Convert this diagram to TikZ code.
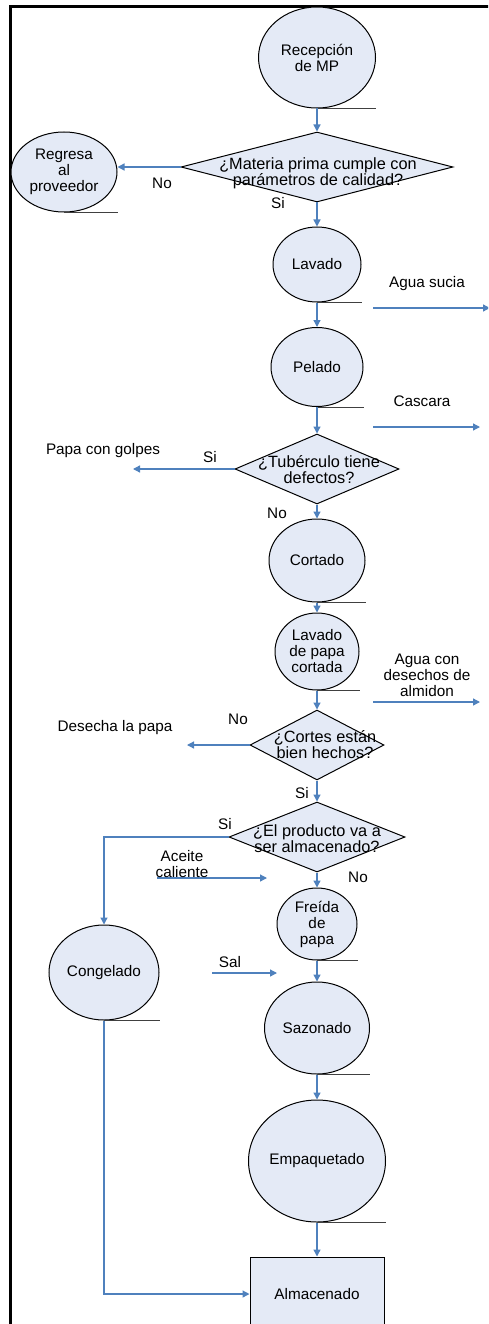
\documentclass[tikz,border=0pt]{standalone}
\usepackage{fontspec}
\setmainfont{Liberation Sans}
\usetikzlibrary{shapes.geometric,arrows.meta}
\definecolor{procfill}{RGB}{228,234,246}
\definecolor{flowblue}{RGB}{79,129,189}
\newcommand\figfont{\fontsize{15.3}{16}\selectfont}
\newcommand\decfont{\fontsize{16.3}{16}\selectfont}
\begin{document}
\begin{tikzpicture}[x=1pt,y=-1pt,
 proc/.style={ellipse,draw=black,line width=1,fill=procfill,inner sep=0,align=center,font=\figfont},
 dec/.style={diamond,draw=black,line width=1,fill=procfill,inner sep=0},
 store/.style={rectangle,draw=black,line width=1,fill=procfill,inner sep=0,font=\figfont},
 flow/.style={draw=flowblue,line width=1.3,-{Triangle[length=7pt,width=7pt]}},
 tail/.style={draw=black!75,line width=0.9},
 txt/.style={font=\figfont,align=center,inner sep=0},
 dtxt/.style={font=\decfont,align=center,inner sep=0},
 frame/.style={draw=black,line width=3.4}
]
\useasboundingbox (0,0) rectangle (488,1324);
\clip (0,0) rectangle (488,1324);

% frame
\draw[frame] (10.4,1330) -- (10.4,6.5) -- (492,6.5);

% nodes
\node[proc,minimum width=117,minimum height=101] (recep) at (317,57.5) {Recepción\\de MP};
\node[dec,minimum width=272,minimum height=70] (d1) at (317,167) {};
\node[dtxt] (d1t) at (318,173) {¿Materia prima cumple con\\parámetros de calidad?};
\node[proc,minimum width=106,minimum height=80] (regresa) at (64,172) {Regresa\\al\\proveedor};
\node[proc,minimum width=88,minimum height=75] (lavado) at (317,264.5) {Lavado};
\node[proc,minimum width=92,minimum height=79] (pelado) at (317,367) {Pelado};
\node[dec,minimum width=164,minimum height=70] (d2) at (317,469) {};
\node[dtxt] (d2t) at (319,470) {¿Tubérculo tiene\\defectos?};
\node[proc,minimum width=96,minimum height=83] (cortado) at (317,560.5) {Cortado};
\node[proc,minimum width=84,minimum height=77] (lav2) at (317,651.5) {Lavado\\de papa\\cortada};
\node[dec,minimum width=134,minimum height=70] (d3) at (317,745) {};
\node[dtxt] (d3t) at (325,745) {¿Cortes están\\bien hechos?};
\node[dec,minimum width=176,minimum height=70] (d4) at (317,837) {};
\node[dtxt] (d4t) at (317,839) {¿El producto va a\\ser almacenado?};
\node[proc,minimum width=80,minimum height=72] (freida) at (317,924) {Freída\\de\\papa};
\node[proc,minimum width=110,minimum height=95] (congel) at (104,972.5) {Congelado};
\node[proc,minimum width=105,minimum height=92] (sazon) at (317,1028) {Sazonado};
\node[proc,minimum width=137,minimum height=122] (empaq) at (317,1161) {Empaquetado};
\node[store,minimum width=134,minimum height=74] (almac) at (317,1294) {Almacenado};

% tails under process symbols
\foreach \n in {recep,regresa,lavado,pelado,cortado,lav2,freida,congel,sazon,empaq}
  \draw[tail] (\n.south) -- (\n.south -| \n.east);

% main flow
\draw[flow] (recep.south) -- (d1.north);
\draw[flow] (d1.west) -- (d1.west -| regresa.east);
\draw[flow] (d1.south) -- (lavado.north);
\draw[flow] (lavado.south) -- (pelado.north);
\draw[flow] (pelado.south) -- (d2.north);
\draw[flow] (d2.south) -- (cortado.north);
\draw[flow] (cortado.south) -- (lav2.north);
\draw[flow] (lav2.south) -- (d3.north);
\draw[flow] (d3.south) -- (d4.north);
\draw[flow] (d4.west) -| (congel.north);
\draw[flow] (d4.south) -- (freida.north);
\draw[flow] (freida.south) -- (sazon.north);
\draw[flow] (sazon.south) -- (empaq.north);
\draw[flow] (empaq.south) -- (almac.north);
\draw[flow] (congel.south) |- (almac.west);

% side outputs and inputs
\coordinate (as1) at (373,308); \coordinate (as2) at (490,308);
\draw[flow] (as1) -- (as2);
\coordinate (ca1) at (373,427); \coordinate (ca2) at (480,427);
\draw[flow] (ca1) -- (ca2);
\coordinate (pg) at (133,469);
\draw[flow] (d2.west) -- (pg);
\coordinate (al1) at (373,702); \coordinate (al2) at (480,702);
\draw[flow] (al1) -- (al2);
\coordinate (dp) at (187,745);
\draw[flow] (d3.west) -- (dp);
\coordinate (ac1) at (157,878); \coordinate (ac2) at (267,878);
\draw[flow] (ac1) -- (ac2);
\coordinate (sa1) at (212,973); \coordinate (sa2) at (277,973);
\draw[flow] (sa1) -- (sa2);

% labels
\node[txt] (l1) at (162,183) {No};
\node[txt] (l2) at (278,203) {Si};
\node[txt] (l3) at (427,284) {Agua sucia};
\node[txt] (l4) at (422,401) {Cascara};
\node[txt] (l5) at (103,451) {Papa con golpes};
\node[txt] (l6) at (210,457) {Si};
\node[txt] (l7) at (277,513) {No};
\node[txt] (l8) at (427,675) {Agua con\\desechos de\\almidon};
\node[txt] (l9) at (115,728) {Desecha la papa};
\node[txt] (l10) at (238,719) {No};
\node[txt] (l11) at (302,793) {Si};
\node[txt] (l12) at (225,824) {Si};
\node[txt] (l13) at (182,864) {Aceite\\caliente};
\node[txt] (l14) at (358,877) {No};
\node[txt] (l15) at (230,962) {Sal};
\end{tikzpicture}
\end{document}
